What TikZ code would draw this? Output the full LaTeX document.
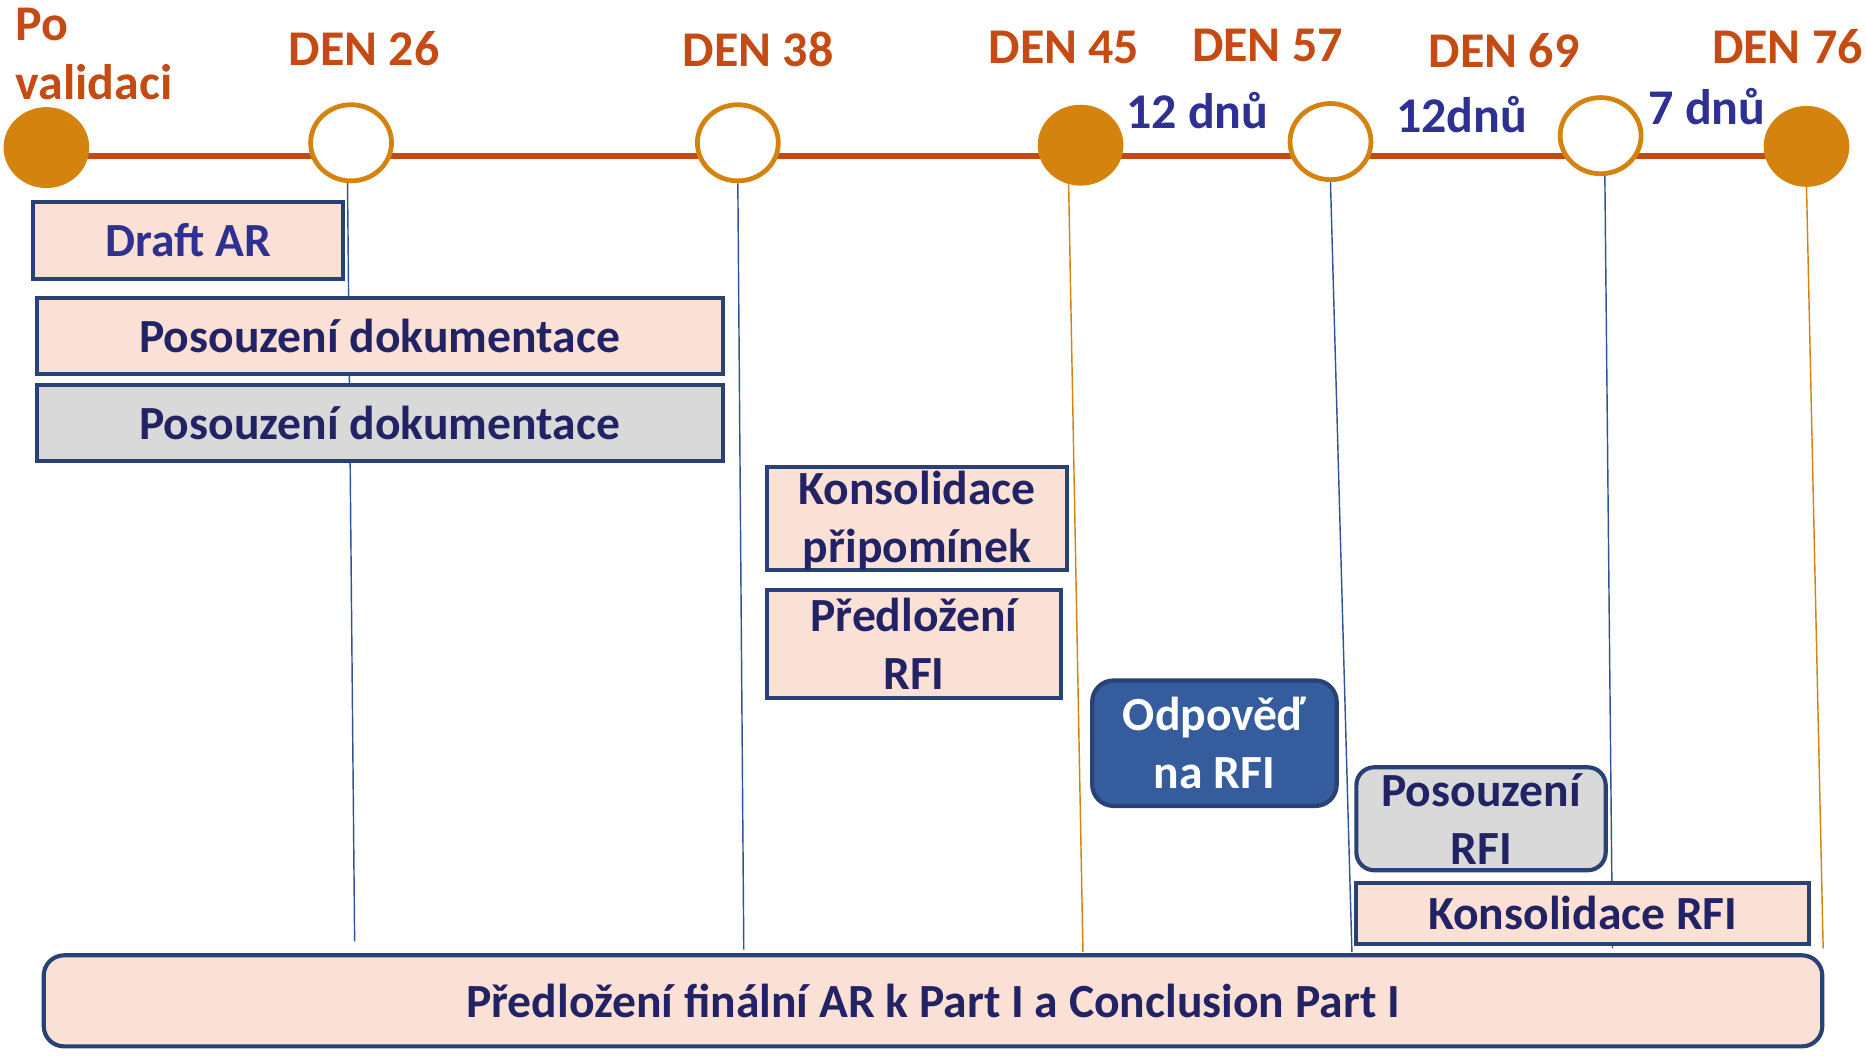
\documentclass[tikz,border=0pt]{standalone}
\usepackage{fontspec}
\setmainfont{Carlito}
\usetikzlibrary{shapes.geometric}

\definecolor{tlline}{RGB}{196,74,18}
\definecolor{daytext}{RGB}{197,75,20}
\definecolor{circ}{RGB}{212,131,14}
\definecolor{gaptext}{RGB}{46,49,146}
\definecolor{boxtext}{RGB}{33,35,100}
\definecolor{boxborder}{RGB}{40,66,118}
\definecolor{pinkfill}{RGB}{251,224,213}
\definecolor{grayfill}{RGB}{217,217,217}
\definecolor{bluefill}{RGB}{53,92,157}
\definecolor{vblue}{RGB}{47,85,151}

\tikzset{
  bigfont/.style={font=\fontsize{40}{49}\selectfont\bfseries},
  labelfont/.style={font=\fontsize{42}{50}\selectfont\bfseries},
  milestone/.style={ellipse, inner sep=0pt},
  fullmark/.style={milestone, fill=circ, minimum width=72pt, minimum height=68pt},
  openmark/.style={milestone, draw=circ, line width=4pt, fill=white, minimum width=68pt, minimum height=64pt},
  daylabel/.style={labelfont, text=daytext, anchor=base, inner sep=0pt},
  gaplabel/.style={labelfont, text=gaptext, anchor=base west, inner sep=0pt},
  task/.style={bigfont, draw=boxborder, line width=3.5pt, text=boxtext, align=center, inner sep=0pt},
  pinktask/.style={task, fill=pinkfill},
  graytask/.style={task, fill=grayfill},
  tl/.style={draw=tlline, line width=4.5pt},
  vline/.style={line width=1.2pt},
}

\begin{document}
\begin{tikzpicture}[x=1pt,y=-1pt]
\useasboundingbox (0,0) rectangle (1568,887);

% main time axis
\coordinate (tlstart) at (39,131);
\coordinate (tlend) at (1517,131);
\draw[tl] (tlstart) -- (tlend);

% milestones
\node[fullmark] (c0) at (39,124) {};
\node[openmark] (c1) at (295,120) {};
\node[openmark] (c2) at (620,120) {};
\node[fullmark] (c3) at (908,122) {};
\node[openmark] (c4) at (1118,119) {};
\node[openmark] (c5) at (1345,114) {};
\node[fullmark] (c6) at (1518,123) {};

% lower ends of the drop lines
\coordinate (e1) at (298,791);
\coordinate (e2) at (625,798);
\coordinate (e3) at (910,800);
\coordinate (e4) at (1136,800);
\coordinate (e5) at (1355,797);
\coordinate (e6) at (1532,797);

\draw[vline, vblue] (c1.265) -- (e1);
\draw[vline, vblue] (c2.south) -- (e2);
\draw[vline, circ] (c3.253) -- (e3);
\draw[vline, vblue] (c4.south) -- (e4);
\draw[vline, vblue] (c5.276) -- (e5);
\draw[vline, circ] (c6.south) -- (e6);

% day labels
\node[daylabel, anchor=base west] (lpo) at (13,34) {Po};
\node[daylabel, anchor=base west] (lval) at (13,84) {validaci};
\node[daylabel] (l26) at (306,55) {DEN 26};
\node[daylabel] (l38) at (637,56) {DEN 38};
\node[daylabel] (l45) at (894,53) {DEN 45};
\node[daylabel] (l57) at (1065,52) {DEN 57};
\node[daylabel] (l69) at (1264,57) {DEN 69};
\node[daylabel] (l76) at (1502,53) {DEN 76};

% interval labels
\node[gaplabel] (g1) at (946,108) {12 dnů};
\node[gaplabel] (g2) at (1173,111) {12dnů};
\node[gaplabel] (g3) at (1385,105) {7 dnů};

% tasks
\node[pinktask, text=gaptext, minimum width=260.5pt, minimum height=64.5pt] (draft) at (158,202) {Draft AR};
\node[pinktask, minimum width=576.5pt, minimum height=63.5pt] (posa) at (319,282.5) {Posouzení dokumentace};
\node[graytask, minimum width=576.5pt, minimum height=63.5pt] (posb) at (319,355.5) {Posouzení dokumentace};
\node[pinktask, minimum width=251.5pt, minimum height=86.5pt] (kons) at (770.5,436) {\raisebox{12pt}[0pt][0pt]{\begin{tabular}[t]{@{}c@{}}Konsolidace\\připomínek\end{tabular}}};
\node[pinktask, minimum width=246.5pt, minimum height=90.5pt] (pred) at (768,541) {Předložení\\RFI};
\node[task, fill=bluefill, text=white, rounded corners=18pt, minimum width=205.5pt, minimum height=105.5pt] (odp) at (1020.5,624.5) {Odpověď\\na RFI};
\node[graytask, rounded corners=15pt, minimum width=209.5pt, minimum height=86.5pt] (posrfi) at (1244.5,688) {Posouzení\\RFI};
\node[pinktask, minimum width=380.5pt, minimum height=51.5pt] (konsrfi) at (1330,767.5) {Konsolidace RFI};
\node[pinktask, rounded corners=17pt, minimum width=1494.5pt, minimum height=76.5pt] (final) at (784,841) {Předložení finální AR k Part I a Conclusion Part I};

\end{tikzpicture}
\end{document}
